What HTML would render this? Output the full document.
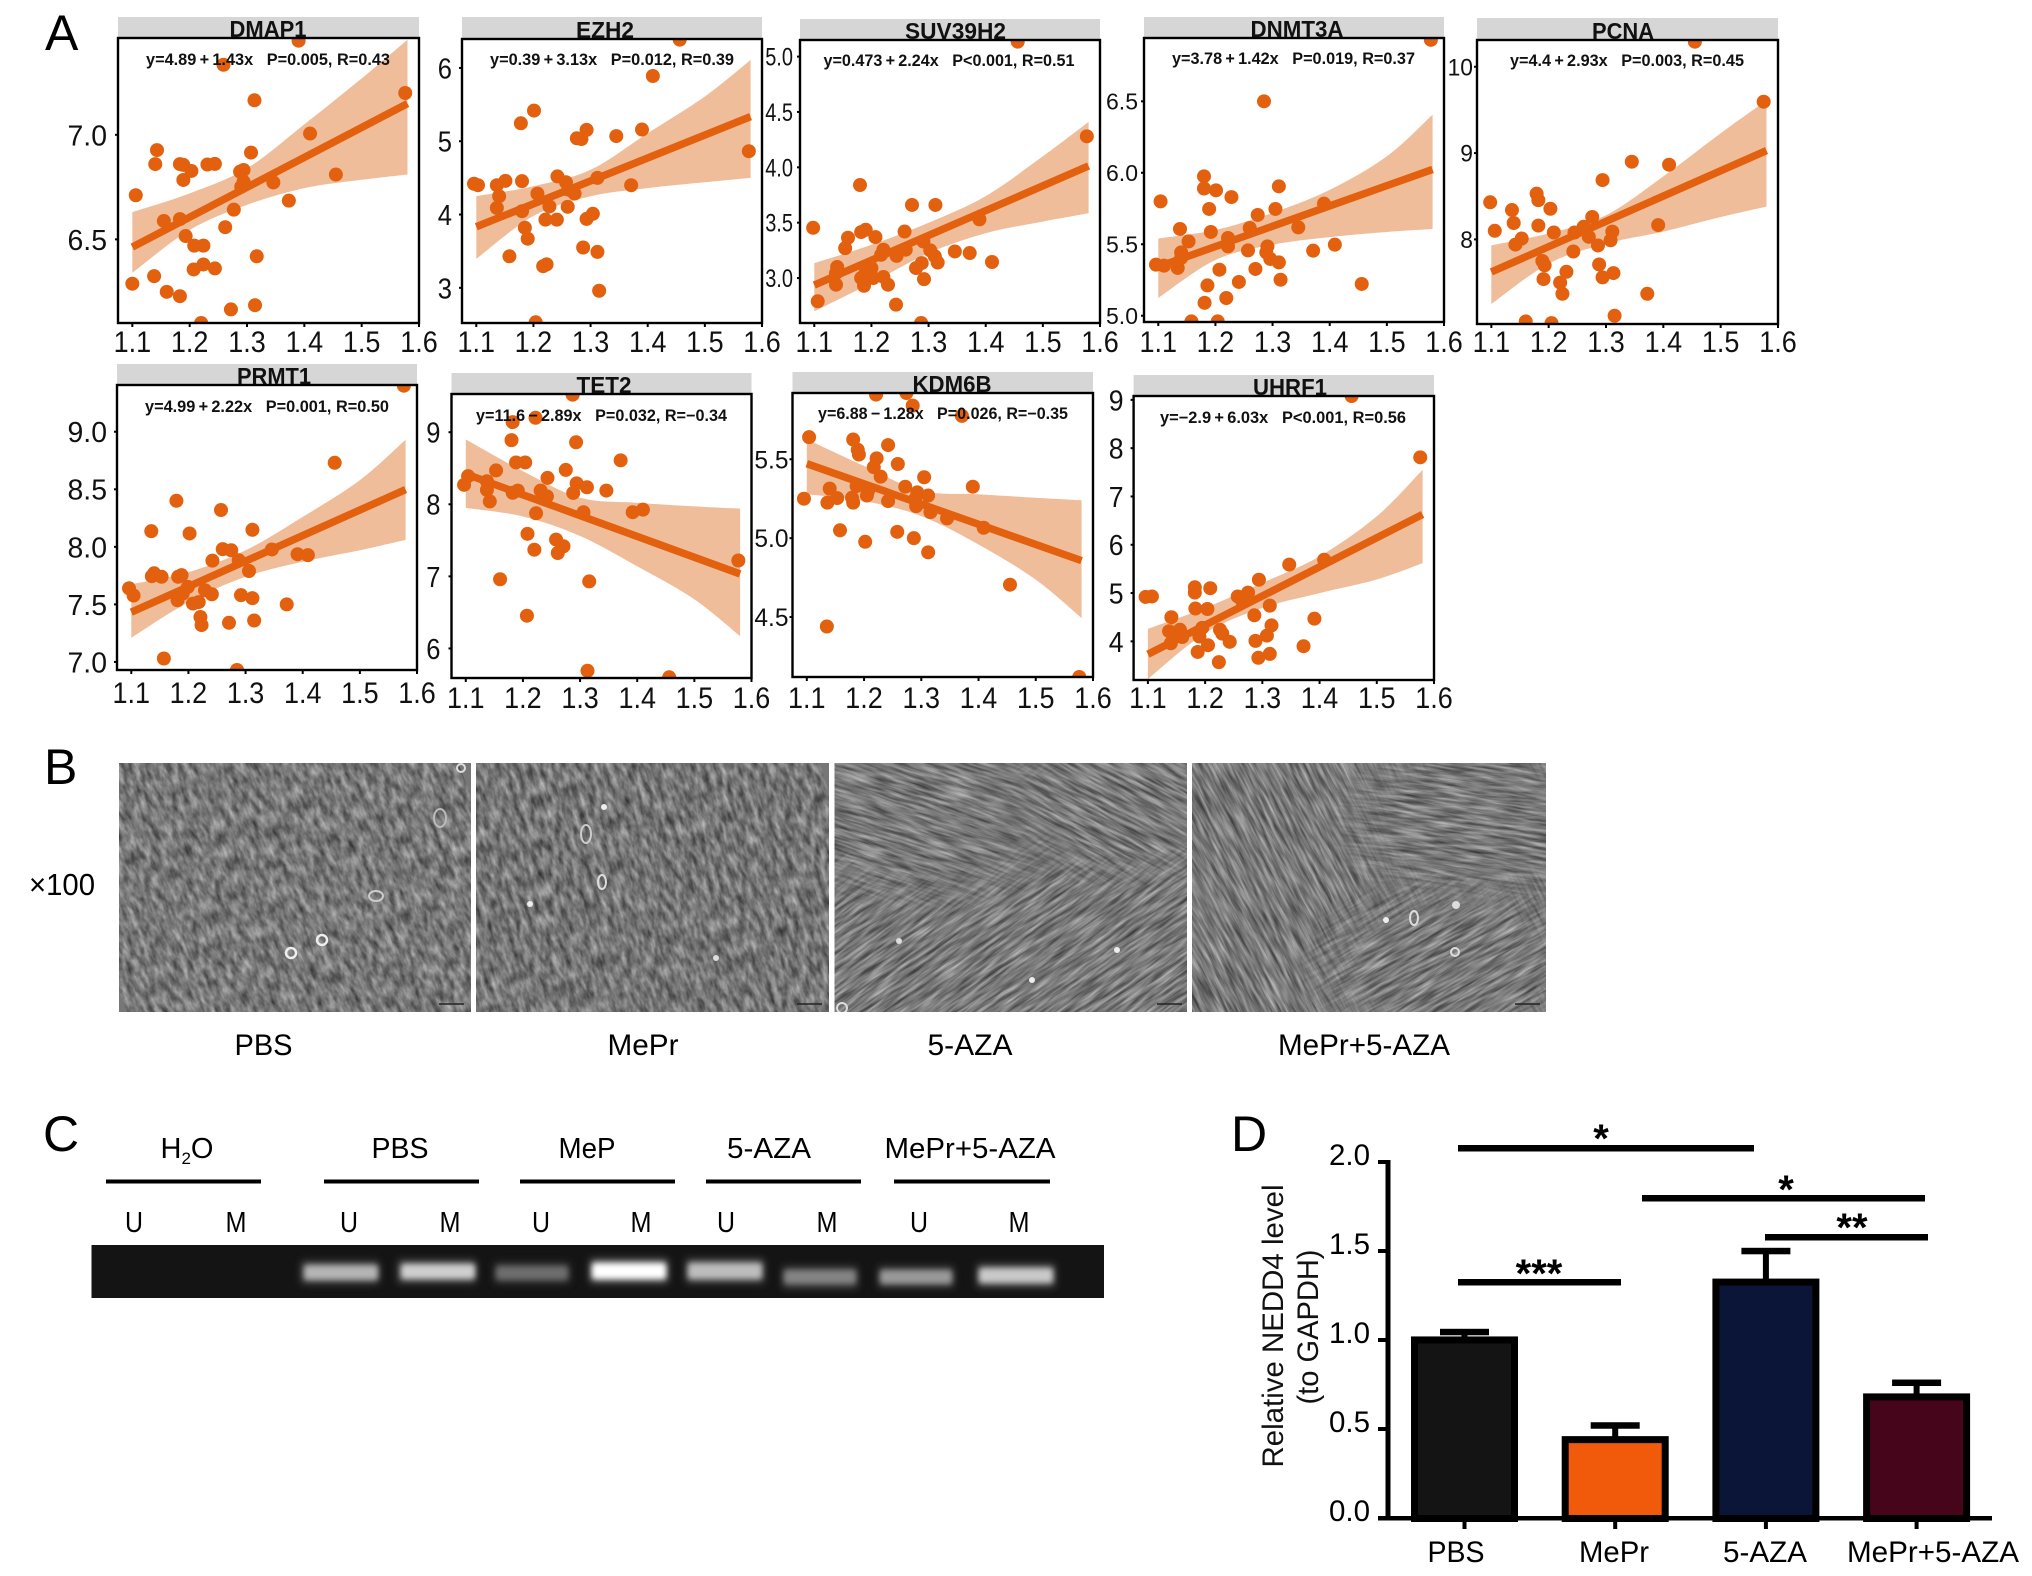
<!DOCTYPE html>
<html lang="en">
<head>
<meta charset="utf-8">
<title>NEDD4 methylation figure</title>
<style>
html,body{margin:0;padding:0;background:#fff;}
svg{display:block;font-family:"Liberation Sans",sans-serif;}
</style>
</head>
<body>
<svg id="figure" xmlns="http://www.w3.org/2000/svg" width="2032" height="1576" viewBox="0 0 2032 1576">
<defs>
<filter id="cellTex" x="0" y="0" width="1" height="1" color-interpolation-filters="sRGB">
<feTurbulence type="fractalNoise" baseFrequency="0.07 0.17" numOctaves="3" seed="4"/>
<feColorMatrix type="matrix" values="0.62 0 0 0 0.16  0.62 0 0 0 0.16  0.62 0 0 0 0.16  0 0 0 0 1"/>
</filter>
<filter id="cellTex2" x="0" y="0" width="1" height="1" color-interpolation-filters="sRGB">
<feTurbulence type="fractalNoise" baseFrequency="0.07 0.17" numOctaves="3" seed="11"/>
<feColorMatrix type="matrix" values="0.62 0 0 0 0.15  0.62 0 0 0 0.15  0.62 0 0 0 0.15  0 0 0 0 1"/>
</filter>
<filter id="fiberTex" x="0" y="0" width="1" height="1" color-interpolation-filters="sRGB">
<feTurbulence type="fractalNoise" baseFrequency="0.03 0.3" numOctaves="3" seed="7"/>
<feColorMatrix type="matrix" values="0.65 0 0 0 0.15  0.65 0 0 0 0.15  0.65 0 0 0 0.15  0 0 0 0 1"/>
</filter>
<filter id="fiberTex2" x="0" y="0" width="1" height="1" color-interpolation-filters="sRGB">
<feTurbulence type="fractalNoise" baseFrequency="0.03 0.3" numOctaves="3" seed="19"/>
<feColorMatrix type="matrix" values="0.65 0 0 0 0.15  0.65 0 0 0 0.15  0.65 0 0 0 0.15  0 0 0 0 1"/>
</filter>
<filter id="bandBlur" x="-20%" y="-80%" width="140%" height="260%"><feGaussianBlur stdDeviation="2.8"/></filter>
<filter id="haloBlur" x="-20%" y="-80%" width="140%" height="260%"><feGaussianBlur stdDeviation="4"/></filter>
<radialGradient id="fadeGrad"><stop offset="0.55" stop-color="#fff"/><stop offset="1" stop-color="#000"/></radialGradient>
<mask id="fadeA" maskUnits="userSpaceOnUse" x="700" y="650" width="700" height="480"><ellipse cx="925" cy="810" rx="175" ry="105" fill="url(#fadeGrad)"/></mask>
<mask id="fadeB" maskUnits="userSpaceOnUse" x="900" y="650" width="500" height="480"><ellipse cx="1120" cy="800" rx="130" ry="95" fill="url(#fadeGrad)"/></mask>
<mask id="fadeC" maskUnits="userSpaceOnUse" x="1200" y="650" width="500" height="480"><ellipse cx="1475" cy="820" rx="150" ry="100" fill="url(#fadeGrad)"/></mask>
<mask id="fadeD" maskUnits="userSpaceOnUse" x="1200" y="800" width="500" height="330"><ellipse cx="1450" cy="965" rx="155" ry="100" fill="url(#fadeGrad)"/></mask>
<clipPath id="clipB1"><rect x="119" y="763" width="352" height="249"/></clipPath>
<clipPath id="clipB2"><rect x="476" y="763" width="353" height="249"/></clipPath>
<clipPath id="clipB3"><rect x="834.5" y="763" width="352.5" height="249"/></clipPath>
<clipPath id="clipB4"><rect x="1192" y="763" width="354" height="249"/></clipPath>
</defs>

<g font-size="50" fill="#000">
<text x="45" y="50">A</text>
<text x="44" y="784">B</text>
<text x="43" y="1151">C</text>
<text x="1231" y="1151">D</text>
</g>

<g id="panelA"></g>

<g>
<g clip-path="url(#clipB1)">
<rect x="119" y="763" width="352" height="249" fill="#777"/>
<rect x="40" y="690" width="520" height="400" transform="rotate(68 295 888)" filter="url(#cellTex)"/>
<circle cx="322" cy="940" r="5" fill="none" stroke="#eee" stroke-width="2.5"/>
<circle cx="291" cy="953" r="5" fill="none" stroke="#eee" stroke-width="2.5"/>
<circle cx="461" cy="768" r="4" fill="none" stroke="#ddd" stroke-width="2"/>
<ellipse cx="376" cy="896" rx="7" ry="5" fill="none" stroke="#ccc" stroke-width="2"/>
<ellipse cx="440" cy="818" rx="6" ry="9" fill="none" stroke="#bbb" stroke-width="2"/>
<path d="M439 1004h25" stroke="#222" stroke-width="1.5"/>
</g>
<g clip-path="url(#clipB2)">
<rect x="476" y="763" width="353" height="249" fill="#767676"/>
<rect x="400" y="690" width="520" height="400" transform="rotate(72 652 888)" filter="url(#cellTex2)"/>
<ellipse cx="586" cy="834" rx="5" ry="9" fill="none" stroke="#ccc" stroke-width="2"/>
<ellipse cx="602" cy="882" rx="4" ry="7" fill="none" stroke="#ddd" stroke-width="2"/>
<circle cx="530" cy="904" r="3" fill="#eee"/>
<circle cx="604" cy="807" r="3" fill="#eee"/>
<circle cx="716" cy="958" r="3" fill="#ddd"/>
<path d="M797 1004h25" stroke="#222" stroke-width="1.5"/>
</g>
<g clip-path="url(#clipB3)">
<rect x="834.5" y="763" width="352.5" height="249" fill="#777"/>
<rect x="700" y="650" width="620" height="480" transform="rotate(-35 1010 888)" filter="url(#fiberTex)"/>
<g mask="url(#fadeA)"><rect x="730" y="670" width="400" height="280" transform="rotate(18 925 810)" filter="url(#fiberTex2)"/></g>
<g mask="url(#fadeB)"><rect x="960" y="670" width="320" height="260" transform="rotate(28 1120 800)" filter="url(#fiberTex)"/></g>
<circle cx="1117" cy="950" r="3" fill="#eee"/>
<circle cx="1032" cy="980" r="3" fill="#eee"/>
<circle cx="899" cy="941" r="3" fill="#ddd"/>
<circle cx="842" cy="1008" r="5" fill="none" stroke="#ddd" stroke-width="2"/>
<path d="M1157 1004h25" stroke="#222" stroke-width="1.5"/>
</g>
<g clip-path="url(#clipB4)">
<rect x="1192" y="763" width="354" height="249" fill="#777"/>
<rect x="1060" y="650" width="620" height="480" transform="rotate(62 1369 888)" filter="url(#fiberTex2)"/>
<g mask="url(#fadeC)"><rect x="1300" y="690" width="350" height="260" transform="rotate(8 1475 820)" filter="url(#fiberTex)"/></g>
<g mask="url(#fadeD)"><rect x="1280" y="830" width="340" height="270" transform="rotate(-30 1450 965)" filter="url(#fiberTex)"/></g>
<circle cx="1386" cy="920" r="3" fill="#eee"/>
<ellipse cx="1414" cy="918" rx="4" ry="7" fill="none" stroke="#ddd" stroke-width="2"/>
<circle cx="1456" cy="905" r="4" fill="#ddd"/>
<circle cx="1455" cy="952" r="4" fill="none" stroke="#ddd" stroke-width="2"/>
<path d="M1515 1004h25" stroke="#222" stroke-width="1.5"/>
</g>
<g font-size="30" text-anchor="middle" fill="#000">
<text x="62" y="895" font-size="31" textLength="66" lengthAdjust="spacingAndGlyphs">×100</text>
<text x="263.5" y="1055" textLength="58" lengthAdjust="spacingAndGlyphs">PBS</text>
<text x="643" y="1055" textLength="71" lengthAdjust="spacingAndGlyphs">MePr</text>
<text x="970" y="1055" textLength="85" lengthAdjust="spacingAndGlyphs">5-AZA</text>
<text x="1364" y="1055" textLength="172" lengthAdjust="spacingAndGlyphs">MePr+5-AZA</text>
</g>
</g>

<g>
<g font-size="29" text-anchor="middle" fill="#000">
<text x="187" y="1158">H<tspan font-size="17" dy="6">2</tspan><tspan dy="-6">O</tspan></text>
<text x="400" y="1158" textLength="57" lengthAdjust="spacingAndGlyphs">PBS</text>
<text x="587" y="1158" textLength="57" lengthAdjust="spacingAndGlyphs">MeP</text>
<text x="769" y="1158" textLength="84" lengthAdjust="spacingAndGlyphs">5-AZA</text>
<text x="970" y="1158" textLength="171" lengthAdjust="spacingAndGlyphs">MePr+5-AZA</text>
<text x="134" y="1232" textLength="18" lengthAdjust="spacingAndGlyphs">U</text>
<text x="236" y="1232" textLength="21" lengthAdjust="spacingAndGlyphs">M</text>
<text x="349" y="1232" textLength="18" lengthAdjust="spacingAndGlyphs">U</text>
<text x="450" y="1232" textLength="21" lengthAdjust="spacingAndGlyphs">M</text>
<text x="541" y="1232" textLength="18" lengthAdjust="spacingAndGlyphs">U</text>
<text x="641" y="1232" textLength="21" lengthAdjust="spacingAndGlyphs">M</text>
<text x="726" y="1232" textLength="18" lengthAdjust="spacingAndGlyphs">U</text>
<text x="827" y="1232" textLength="21" lengthAdjust="spacingAndGlyphs">M</text>
<text x="919" y="1232" textLength="18" lengthAdjust="spacingAndGlyphs">U</text>
<text x="1019" y="1232" textLength="21" lengthAdjust="spacingAndGlyphs">M</text>
</g>
<g fill="#000">
<rect x="106" y="1179.5" width="155" height="4"/>
<rect x="324" y="1179.5" width="155" height="4"/>
<rect x="520" y="1179.5" width="155" height="4"/>
<rect x="706" y="1179.5" width="155" height="4"/>
<rect x="894" y="1179.5" width="156" height="4"/>
</g>
<rect x="91.5" y="1245" width="1012.5" height="53" fill="#141414"/>
<g filter="url(#haloBlur)" opacity="0.6">
<rect x="301" y="1261" width="78" height="23" fill="#666"/>
<rect x="398" y="1260" width="78" height="23" fill="#777"/>
<rect x="494" y="1262" width="76" height="22" fill="#444"/>
<rect x="590" y="1259" width="78" height="24" fill="#999"/>
<rect x="686" y="1259" width="78" height="24" fill="#777"/>
<rect x="782" y="1266" width="76" height="23" fill="#555"/>
<rect x="878" y="1266" width="76" height="22" fill="#555"/>
<rect x="977" y="1264" width="78" height="23" fill="#777"/>
</g>
<g filter="url(#bandBlur)">
<rect x="304" y="1265" width="74" height="15" rx="3" fill="#b4b4b4"/>
<rect x="401" y="1264" width="74" height="15" rx="3" fill="#cfcfcf"/>
<rect x="496" y="1266" width="72" height="14" rx="3" fill="#6d6d6d"/>
<rect x="592" y="1263" width="74" height="16" rx="3" fill="#ffffff"/>
<rect x="688" y="1263" width="74" height="16" rx="3" fill="#bdbdbd"/>
<rect x="784" y="1270" width="72" height="14" rx="3" fill="#838383"/>
<rect x="880" y="1270" width="72" height="14" rx="3" fill="#999"/>
<rect x="979" y="1268" width="74" height="15" rx="3" fill="#c9c9c9"/>
</g>
</g>

<g id="panelD"></g>

<g fill="#000">
<rect x="1458" y="1145" width="296" height="6.5"/>
<text x="1601" y="1152" font-size="40" font-weight="bold" text-anchor="middle">*</text>
<rect x="1642" y="1195" width="283" height="6.5"/>
<text x="1786" y="1203" font-size="40" font-weight="bold" text-anchor="middle">*</text>
<rect x="1765" y="1234" width="163" height="6.5"/>
<text x="1852" y="1241" font-size="40" font-weight="bold" text-anchor="middle">**</text>
<rect x="1458" y="1279" width="163" height="6.5"/>
<text x="1539" y="1287" font-size="40" font-weight="bold" text-anchor="middle">***</text>
</g>
</svg>

<script>
// ---------- Panel A values ----------
const xDomain = [1.075, 1.6];
const xTickLabels = ["1.1", "1.2", "1.3", "1.4", "1.5", "1.6"];
const ciX = [1.1, 1.2, 1.3, 1.4, 1.5, 1.58];
const lineX = [1.1, 1.58];

const geneNames = ["DMAP1", "EZH2", "SUV39H2", "DNMT3A", "PCNA", "PRMT1", "TET2", "KDM6B", "UHRF1"];
const intercepts = [4.89, 0.39, 0.473, 3.78, 4.4, 4.99, 11.6, 6.88, -2.9];
const slopes = [1.43, 3.13, 2.24, 1.42, 2.93, 2.22, -2.89, -1.28, 6.03];
const equations = [
  "y=4.89\u2009+\u20091.43x\u00a0\u00a0\u00a0P=0.005, R=0.43",
  "y=0.39\u2009+\u20093.13x\u00a0\u00a0\u00a0P=0.012, R=0.39",
  "y=0.473\u2009+\u20092.24x\u00a0\u00a0\u00a0P<0.001, R=0.51",
  "y=3.78\u2009+\u20091.42x\u00a0\u00a0\u00a0P=0.019, R=0.37",
  "y=4.4\u2009+\u20092.93x\u00a0\u00a0\u00a0P=0.003, R=0.45",
  "y=4.99\u2009+\u20092.22x\u00a0\u00a0\u00a0P=0.001, R=0.50",
  "y=11.6\u2009\u2212\u20092.89x\u00a0\u00a0\u00a0P=0.032, R=\u22120.34",
  "y=6.88\u2009\u2212\u20091.28x\u00a0\u00a0\u00a0P=0.026, R=\u22120.35",
  "y=\u22122.9\u2009+\u20096.03x\u00a0\u00a0\u00a0P<0.001, R=0.56"
];

const dmap1Domain = [6.10, 7.463];
const dmap1Ticks = ["6.5", "7.0"];
const dmap1X = [1.39,1.259,1.313,1.576,1.41,1.307,1.143,1.14,1.183,1.189,1.203,1.231,1.244,1.189,1.294,1.288,1.294,1.29,1.106,1.346,1.373,1.277,1.155,1.183,1.262,1.193,1.208,1.224,1.455,1.317,1.224,1.207,1.244,1.138,1.10,1.16,1.183,1.272,1.314,1.22];
const dmap1Y = [7.45,7.335,7.165,7.20,7.006,6.915,6.927,6.86,6.86,6.856,6.827,6.858,6.861,6.784,6.832,6.824,6.776,6.752,6.711,6.772,6.685,6.642,6.588,6.597,6.558,6.516,6.47,6.47,6.81,6.419,6.38,6.356,6.361,6.324,6.288,6.249,6.228,6.165,6.185,6.10];
const dmap1CiUpper = [6.63,6.72,6.84,7.05,7.27,7.455];
const dmap1CiLower = [6.34,6.545,6.665,6.745,6.785,6.81];

const ezh2Domain = [2.52, 6.395];
const ezh2Ticks = ["3", "4", "5", "6"];
const ezh2X = [1.456,1.409,1.201,1.178,1.293,1.276,1.284,1.345,1.39,1.577,1.096,1.103,1.136,1.151,1.18,1.242,1.257,1.312,1.371,1.14,1.207,1.136,1.18,1.228,1.26,1.272,1.261,1.221,1.241,1.293,1.304,1.185,1.19,1.158,1.287,1.312,1.223,1.217,1.315,1.204];
const ezh2Y = [6.386,5.89,5.418,5.245,5.155,5.04,5.03,5.07,5.16,4.864,4.42,4.40,4.40,4.46,4.455,4.52,4.44,4.50,4.40,4.25,4.286,4.09,4.045,4.11,4.105,4.286,4.34,3.93,3.93,3.94,4.01,3.82,3.67,3.43,3.55,3.49,3.32,3.295,2.96,2.53];
const ezh2CiUpper = [4.25,4.386,4.61,5.11,5.61,6.11];
const ezh2CiLower = [3.395,3.98,4.25,4.36,4.44,4.5];

const suv39h2Domain = [2.594, 5.15];
const suv39h2Ticks = ["3.0", "3.5", "4.0", "4.5", "5.0"];
const suv39h2X = [1.456,1.577,1.18,1.271,1.312,1.098,1.389,1.182,1.19,1.207,1.258,1.159,1.154,1.221,1.217,1.244,1.26,1.291,1.303,1.311,1.316,1.346,1.372,1.411,1.288,1.278,1.292,1.14,1.138,1.138,1.106,1.2,1.19,1.182,1.187,1.203,1.221,1.229,1.243,1.287];
const suv39h2Y = [5.135,4.28,3.84,3.66,3.66,3.454,3.53,3.415,3.436,3.37,3.42,3.364,3.27,3.256,3.21,3.2,3.256,3.33,3.25,3.196,3.14,3.24,3.226,3.145,3.135,3.09,2.99,3.1,3.045,2.94,2.79,3.09,3.05,3.0,2.93,3.0,3.01,2.94,2.76,2.594];
const suv39h2CiUpper = [3.135,3.30,3.50,3.74,4.10,4.41];
const suv39h2CiLower = [2.70,2.955,3.225,3.405,3.51,3.585];

const dnmt3aDomain = [4.956, 6.943];
const dnmt3aTicks = ["5.0", "5.5", "6.0", "6.5"];
const dnmt3aX = [1.577,1.285,1.18,1.18,1.201,1.228,1.311,1.104,1.189,1.39,1.305,1.274,1.26,1.138,1.192,1.153,1.222,1.222,1.345,1.371,1.409,1.257,1.291,1.289,1.14,1.14,1.096,1.11,1.134,1.296,1.311,1.207,1.27,1.314,1.241,1.456,1.186,1.219,1.181,1.158,1.204];
const dnmt3aY = [6.93,6.5,5.975,5.89,5.877,5.83,5.905,5.80,5.747,5.784,5.747,5.705,5.614,5.607,5.586,5.52,5.544,5.485,5.618,5.455,5.497,5.457,5.485,5.443,5.443,5.404,5.357,5.35,5.334,5.397,5.373,5.322,5.327,5.252,5.236,5.222,5.212,5.124,5.09,4.96,4.96];
const dnmt3aCiUpper = [5.54,5.60,5.72,5.88,6.115,6.407];
const dnmt3aCiLower = [5.124,5.39,5.497,5.55,5.586,5.607];

const pcnaDomain = [7.02, 10.31];
const pcnaTicks = ["8", "9", "10"];
const pcnaX = [1.455,1.575,1.345,1.41,1.294,1.098,1.179,1.182,1.203,1.136,1.139,1.182,1.276,1.106,1.209,1.391,1.245,1.261,1.27,1.311,1.308,1.153,1.142,1.286,1.243,1.189,1.193,1.288,1.231,1.313,1.294,1.191,1.22,1.224,1.372,1.315,1.16,1.205];
const pcnaY = [10.29,9.595,8.90,8.865,8.687,8.43,8.53,8.455,8.355,8.34,8.19,8.16,8.26,8.10,8.08,8.166,8.08,8.146,8.03,8.09,7.99,8.01,7.94,7.93,7.86,7.75,7.70,7.71,7.625,7.61,7.56,7.54,7.5,7.37,7.37,7.115,7.05,7.03];
const pcnaCiUpper = [7.93,8.07,8.28,8.73,9.23,9.61];
const pcnaCiLower = [7.25,7.72,7.95,8.09,8.26,8.38];

const prmt1Domain = [6.93, 9.406];
const prmt1Ticks = ["7.0", "7.5", "8.0", "8.5", "9.0"];
const prmt1X = [1.577,1.456,1.179,1.257,1.135,1.202,1.312,1.26,1.275,1.242,1.346,1.391,1.409,1.288,1.306,1.14,1.136,1.153,1.182,1.188,1.096,1.104,1.199,1.19,1.181,1.208,1.218,1.229,1.241,1.292,1.312,1.372,1.221,1.223,1.271,1.315,1.157,1.285];
const prmt1Y = [9.40,8.73,8.40,8.32,8.136,8.116,8.148,7.98,7.97,7.88,7.977,7.936,7.928,7.884,7.79,7.77,7.745,7.74,7.74,7.754,7.64,7.577,7.652,7.594,7.536,7.507,7.52,7.623,7.588,7.58,7.554,7.50,7.39,7.32,7.34,7.36,7.03,6.93];
const prmt1CiUpper = [7.675,7.78,7.97,8.26,8.58,8.93];
const prmt1CiLower = [7.21,7.52,7.74,7.87,7.97,8.06];

const tet2Domain = [5.59, 9.53];
const tet2Ticks = ["6", "7", "8", "9"];
const tet2X = [1.287,1.182,1.222,1.18,1.293,1.188,1.204,1.371,1.153,1.275,1.243,1.104,1.097,1.137,1.137,1.142,1.294,1.312,1.346,1.191,1.182,1.231,1.242,1.288,1.223,1.306,1.392,1.41,1.208,1.258,1.271,1.22,1.261,1.577,1.16,1.316,1.207,1.313,1.456];
const tet2Y = [9.52,9.14,9.2,8.89,8.86,8.58,8.58,8.61,8.47,8.477,8.366,8.39,8.27,8.32,8.20,8.04,8.29,8.236,8.19,8.19,8.16,8.19,8.11,8.157,7.875,7.89,7.89,7.926,7.59,7.51,7.417,7.37,7.324,7.22,6.96,6.93,6.454,5.69,5.6];
const tet2CiUpper = [8.9,8.46,8.09,8.02,7.97,7.94];
const tet2CiLower = [7.95,7.83,7.56,7.14,6.68,6.17];

const kdm6bDomain = [4.12, 5.92];
const kdm6bTicks = ["4.5", "5.0", "5.5"];
const kdm6bX = [1.221,1.274,1.285,1.371,1.104,1.181,1.189,1.191,1.242,1.222,1.217,1.259,1.229,1.305,1.39,1.14,1.187,1.272,1.207,1.293,1.312,1.205,1.095,1.153,1.136,1.179,1.181,1.242,1.289,1.291,1.316,1.345,1.409,1.158,1.258,1.287,1.202,1.312,1.455,1.135,1.576];
const kdm6bY = [5.91,5.92,5.84,5.775,5.64,5.625,5.56,5.53,5.59,5.506,5.45,5.47,5.39,5.386,5.326,5.314,5.33,5.326,5.30,5.29,5.27,5.27,5.25,5.254,5.225,5.256,5.225,5.235,5.246,5.203,5.165,5.125,5.066,5.05,5.04,5.0,4.977,4.91,4.705,4.44,4.12];
const kdm6bCiUpper = [5.627,5.458,5.30,5.278,5.256,5.24];
const kdm6bCiLower = [5.278,5.235,5.14,4.96,4.737,4.494];

const uhrf1Domain = [3.2, 9.08];
const uhrf1Ticks = ["4", "5", "6", "7", "8", "9"];
const uhrf1X = [1.456,1.576,1.347,1.408,1.294,1.096,1.107,1.182,1.182,1.209,1.275,1.257,1.265,1.313,1.183,1.204,1.286,1.141,1.391,1.316,1.137,1.156,1.144,1.16,1.195,1.19,1.226,1.23,1.308,1.288,1.243,1.205,1.14,1.187,1.372,1.313,1.293,1.224];
const uhrf1Y = [9.08,7.81,5.59,5.69,5.276,4.92,4.93,5.12,5.01,5.10,5.01,4.93,4.83,4.74,4.68,4.67,4.54,4.50,4.47,4.33,4.21,4.24,4.14,4.09,4.28,4.10,4.24,4.16,4.12,4.01,3.99,3.92,3.96,3.78,3.90,3.74,3.66,3.57];
const uhrf1CiUpper = [4.26,4.69,5.21,5.76,6.59,7.55];
const uhrf1CiLower = [3.22,4.17,4.69,5.0,5.28,5.62];

// ---------- Panel D values ----------
const barCategories = ["PBS", "MePr", "5-AZA", "MePr+5-AZA"];
const barValues = [1.02, 0.46, 1.345, 0.70];
const barErrorTops = [1.045, 0.52, 1.50, 0.76];
const barTickLabels = ["0.0", "0.5", "1.0", "1.5", "2.0"];

// ---------- Drawing ----------
const SVGNS = "http://www.w3.org/2000/svg";
function make(tag, attrs, text) {
  const el = document.createElementNS(SVGNS, tag);
  for (const k in attrs) el.setAttribute(k, attrs[k]);
  if (text !== undefined) el.textContent = text;
  return el;
}
function numberWidth(label, size) {
  let w = 0;
  for (const ch of label) w += (ch === "." ? 0.278 : 0.556);
  return w * size;
}
function smoothSegments(pts) {
  let d = "";
  for (let i = 0; i < pts.length - 1; i++) {
    const p0 = pts[Math.max(i - 1, 0)], p1 = pts[i], p2 = pts[i + 1], p3 = pts[Math.min(i + 2, pts.length - 1)];
    const c1x = p1[0] + (p2[0] - p0[0]) / 6, c1y = p1[1] + (p2[1] - p0[1]) / 6;
    const c2x = p2[0] - (p3[0] - p1[0]) / 6, c2y = p2[1] - (p3[1] - p1[1]) / 6;
    d += " C" + c1x.toFixed(1) + " " + c1y.toFixed(1) + " " + c2x.toFixed(1) + " " + c2y.toFixed(1) + " " + p2[0].toFixed(1) + " " + p2[1].toFixed(1);
  }
  return d;
}

const panelSeries = [
  [dmap1X, dmap1Y, dmap1Domain, dmap1Ticks, dmap1CiUpper, dmap1CiLower],
  [ezh2X, ezh2Y, ezh2Domain, ezh2Ticks, ezh2CiUpper, ezh2CiLower],
  [suv39h2X, suv39h2Y, suv39h2Domain, suv39h2Ticks, suv39h2CiUpper, suv39h2CiLower],
  [dnmt3aX, dnmt3aY, dnmt3aDomain, dnmt3aTicks, dnmt3aCiUpper, dnmt3aCiLower],
  [pcnaX, pcnaY, pcnaDomain, pcnaTicks, pcnaCiUpper, pcnaCiLower],
  [prmt1X, prmt1Y, prmt1Domain, prmt1Ticks, prmt1CiUpper, prmt1CiLower],
  [tet2X, tet2Y, tet2Domain, tet2Ticks, tet2CiUpper, tet2CiLower],
  [kdm6bX, kdm6bY, kdm6bDomain, kdm6bTicks, kdm6bCiUpper, kdm6bCiLower],
  [uhrf1X, uhrf1Y, uhrf1Domain, uhrf1Ticks, uhrf1CiUpper, uhrf1CiLower]
];

// layout: left, right, top, bottom, stripHeight, titleX, titleW, eqX, eqW, eqY, tickFont, tickWidthScale, tickGap, xLabelY
function layoutFor(i) {
  switch (i) {
    case 0: return {l:118,r:419,t:38,b:323,s:21,tx:268,tw:77,ex:268,ew:244,ey:65,f:29,c:0.98,g:11,xl:352};
    case 1: return {l:462,r:762,t:39,b:323,s:22,tx:605,tw:58,ex:612,ew:244,ey:65,f:29,c:0.88,g:10,xl:352};
    case 2: return {l:800,r:1100,t:40,b:323,s:21,tx:955.5,tw:101,ex:949,ew:251,ey:66,f:25,c:0.8,g:7,xl:352};
    case 3: return {l:1144,r:1444,t:38,b:322,s:21,tx:1297,tw:93,ex:1293.5,ew:243,ey:64,f:23,c:1,g:6,xl:352};
    case 4: return {l:1477,r:1778,t:40,b:324,s:22,tx:1623,tw:62,ex:1627,ew:234,ey:66,f:24,c:0.95,g:4,xl:352};
    case 5: return {l:117,r:417,t:385,b:670,s:21,tx:274,tw:74,ex:267,ew:244,ey:412,f:29,c:0.98,g:10,xl:703};
    case 6: return {l:451.5,r:751.5,t:394,b:678,s:21,tx:604,tw:55,ex:601.5,ew:251,ey:421,f:29,c:0.88,g:11,xl:708};
    case 7: return {l:792.5,r:1093,t:393,b:677,s:21,tx:952,tw:79,ex:943,ew:250,ey:419,f:25,c:0.98,g:4,xl:708};
    default: return {l:1133.6,r:1434,t:396,b:680,s:21,tx:1290,tw:74,ex:1283,ew:246,ey:423,f:29,c:0.92,g:10,xl:708};
  }
}

const panelA = document.getElementById("panelA");
const defs = document.querySelector("defs");

panelSeries.forEach(function (series, i) {
  const xs = series[0], ys = series[1], dom = series[2], ticks = series[3], up = series[4], low = series[5];
  const L = layoutFor(i);
  const gene = geneNames[i].toLowerCase();
  const xScale = function (v) { return L.l + (v - xDomain[0]) / (xDomain[1] - xDomain[0]) * (L.r - L.l); };
  const yScale = function (v) { return L.b - (v - dom[0]) / (dom[1] - dom[0]) * (L.b - L.t); };

  const g = make("g", {});
  
  

  const strip = make("rect", {x: L.l, y: L.t - L.s, width: L.r - L.l, height: L.s, fill: "#d6d6d6"});
  
  
  g.appendChild(strip);

  const plotBg = make("rect", {x: L.l, y: L.t, width: L.r - L.l, height: L.b - L.t, fill: "#fff"});
  
  
  g.appendChild(plotBg);

  const clip = make("clipPath", {id: "plotClip" + i});
  clip.appendChild(make("rect", {x: L.l, y: L.t, width: L.r - L.l, height: L.b - L.t}));
  defs.appendChild(clip);

  const marks = make("g", {"clip-path": "url(#plotClip" + i + ")"});
  
  

  const upperPts = ciX.map(function (x, k) { return [xScale(x), yScale(up[k])]; });
  const lowerPts = ciX.map(function (x, k) { return [xScale(x), yScale(low[k])]; }).reverse();
  const bandPath = "M" + upperPts[0][0].toFixed(1) + " " + upperPts[0][1].toFixed(1) + smoothSegments(upperPts) +
    " L" + lowerPts[0][0].toFixed(1) + " " + lowerPts[0][1].toFixed(1) + smoothSegments(lowerPts) + " Z";
  const band = make("path", {d: bandPath, fill: "#f0bd9a"});
  
  
  marks.appendChild(band);

  const fit = make("line", {
    x1: xScale(lineX[0]), y1: yScale(intercepts[i] + slopes[i] * lineX[0]),
    x2: xScale(lineX[1]), y2: yScale(intercepts[i] + slopes[i] * lineX[1]),
    stroke: "#e2600e", "stroke-width": 7.5
  });
  
  
  marks.appendChild(fit);

  xs.forEach(function (x, k) {
    const dot = make("circle", {cx: xScale(x), cy: yScale(ys[k]), r: 7, fill: "#e2600e"});
    
    
    marks.appendChild(dot);
  });
  g.appendChild(marks);

  const frame = make("rect", {x: L.l, y: L.t, width: L.r - L.l, height: L.b - L.t, fill: "none", stroke: "#000", "stroke-width": 2.4});
  
  
  g.appendChild(frame);

  const title = make("text", {x: L.tx, y: L.t - 1, "text-anchor": "middle", "font-size": 23.5, "font-weight": "bold", fill: "#111", textLength: L.tw, lengthAdjust: "spacingAndGlyphs"}, geneNames[i]);
  
  
  g.appendChild(title);

  const eq = make("text", {x: L.ex, y: L.ey, "text-anchor": "middle", "font-size": 16.5, "font-weight": "bold", fill: "#111", textLength: L.ew, lengthAdjust: "spacingAndGlyphs"}, equations[i]);
  
  
  g.appendChild(eq);

  xTickLabels.forEach(function (lab) {
    const v = parseFloat(lab);
    const tick = make("line", {x1: xScale(v), x2: xScale(v), y1: L.b, y2: L.b + 4, stroke: "#000", "stroke-width": 2});
    
    
    g.appendChild(tick);
    const t = make("text", {x: xScale(v), y: L.xl, "text-anchor": "middle", "font-size": 29.5, fill: "#111", textLength: 37.5, lengthAdjust: "spacingAndGlyphs"}, lab);
    
    
    g.appendChild(t);
  });

  ticks.forEach(function (lab) {
    const v = parseFloat(lab);
    const tick = make("line", {x1: L.l - 3, x2: L.l, y1: yScale(v), y2: yScale(v), stroke: "#000", "stroke-width": 2});
    
    
    g.appendChild(tick);
    const t = make("text", {x: L.l - L.g, y: yScale(v) + L.f * 0.36, "text-anchor": "end", "font-size": L.f, fill: "#111", textLength: (numberWidth(lab, L.f) * L.c).toFixed(1), lengthAdjust: "spacingAndGlyphs"}, lab);
    
    
    g.appendChild(t);
  });

  panelA.appendChild(g);
});

// Panel D
(function () {
  const panelD = document.getElementById("panelD");
  const axisZero = 1518, pxPerUnit = 178;
  const yScale = function (v) { return axisZero - v * pxPerUnit; };
  const xCenter = function (i) { return 1464.5 + 150.7 * i; };
  const barFills = ["#141414", "#f05a0a", "#0b1538", "#47051b"];
  const barW = 107, border = 7, capW = 49;

  barCategories.forEach(function (cat, i) {
    const cx = xCenter(i);
    const stem = make("rect", {x: cx - 3, y: yScale(barErrorTops[i]), width: 6, height: yScale(barValues[i]) - yScale(barErrorTops[i]) + 4, fill: "#000"});
    
    
    panelD.appendChild(stem);
    const cap = make("rect", {x: cx - capW / 2, y: yScale(barErrorTops[i]) - 3.2, width: capW, height: 6.5, fill: "#000"});
    
    
    panelD.appendChild(cap);
    const bar = make("rect", {
      x: cx - barW / 2 + border / 2, y: yScale(barValues[i]) + border / 2,
      width: barW - border, height: axisZero + 4 - yScale(barValues[i]) - border,
      fill: barFills[i], stroke: "#000", "stroke-width": border
    });
    
    
    panelD.appendChild(bar);
    const tick = make("rect", {x: cx - 2, y: axisZero, width: 4, height: 11, fill: "#000"});
    
    
    panelD.appendChild(tick);
  });

  const labelX = [1456, 1614, 1765, 1933];
  const labelW = [57, 70, 84, 172];
  barCategories.forEach(function (cat, i) {
    const t = make("text", {x: labelX[i], y: 1562, "text-anchor": "middle", "font-size": 30, fill: "#000", textLength: labelW[i], lengthAdjust: "spacingAndGlyphs"}, cat);
    
    
    panelD.appendChild(t);
  });

  const yAxis = make("rect", {x: 1385.5, y: yScale(2) - 2, width: 5, height: axisZero - yScale(2) + 4, fill: "#000"});
  
  
  panelD.appendChild(yAxis);
  const xAxis = make("rect", {x: 1378, y: axisZero - 2, width: 614, height: 4.5, fill: "#000"});
  
  
  panelD.appendChild(xAxis);

  barTickLabels.forEach(function (lab) {
    const v = parseFloat(lab);
    const tick = make("rect", {x: 1378, y: yScale(v) - 2, width: 10, height: 4, fill: "#000"});
    
    
    panelD.appendChild(tick);
    const t = make("text", {x: 1370, y: yScale(v) + 3, "text-anchor": "end", "font-size": 30, fill: "#000", textLength: 41, lengthAdjust: "spacingAndGlyphs"}, lab);
    
    
    panelD.appendChild(t);
  });

  const title1 = make("text", {transform: "translate(1283 1326) rotate(-90)", "text-anchor": "middle", "font-size": 30, fill: "#111", textLength: 283, lengthAdjust: "spacingAndGlyphs"}, "Relative NEDD4 level");
  
  
  panelD.appendChild(title1);
  const title2 = make("text", {transform: "translate(1318 1327) rotate(-90)", "text-anchor": "middle", "font-size": 30, fill: "#111", textLength: 155, lengthAdjust: "spacingAndGlyphs"}, "(to GAPDH)");
  
  
  panelD.appendChild(title2);
})();
</script>
</body>
</html>
